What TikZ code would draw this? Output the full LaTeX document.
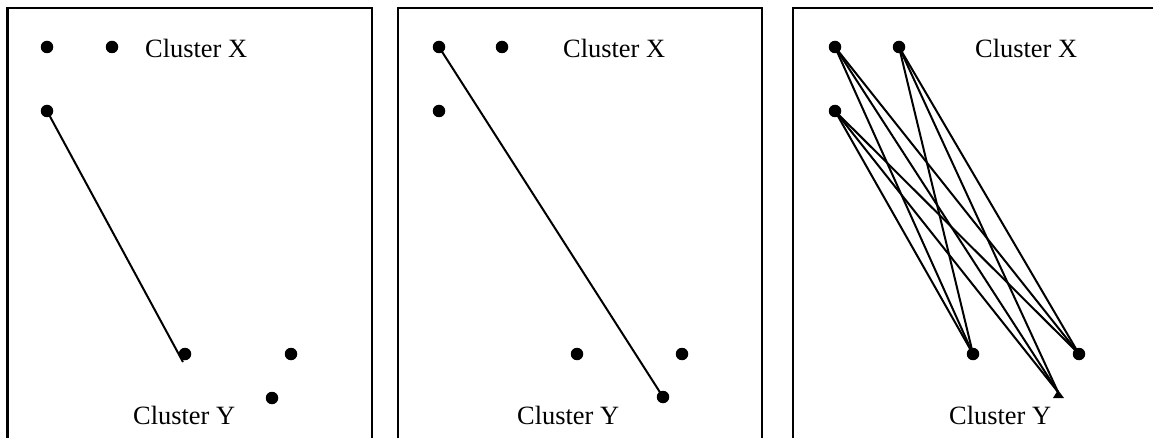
\documentclass[tikz,border=0pt]{standalone}
\usepackage{fontspec}
\setmainfont{Liberation Serif}
\begin{document}
\begin{tikzpicture}[x=1pt,y=-1pt,
  dot/.style={circle,fill=black,inner sep=0pt,minimum size=12.5pt},
  lbl/.style={anchor=base west,inner sep=0pt,font=\fontsize{26.4}{30}\selectfont},
  edge/.style={line width=2pt},
  frame/.style={line width=2.2pt}]
\useasboundingbox (0,0) rectangle (1153,438);
% frames (open at bottom)
\draw[frame] (7.5,440) -- (7.5,8) -- (372,8) -- (372,440);
\draw[frame] (398,440) -- (398,8) -- (762,8) -- (762,440);
\draw[frame] (793,440) -- (793,8) -- (1155,8);
% panel 1
\node[dot] (a1) at (47,47) {};
\node[dot] (a2) at (112,47) {};
\node[dot] (a3) at (47,111) {};
\node[dot] (b1) at (185,354) {};
\node[dot] (b2) at (291,354) {};
\node[dot] (b3) at (272,398) {};
\coordinate (b1e) at (183,362);
\node[lbl] (ax) at (145,58) {Cluster X};
\node[lbl] (ay) at (133,424) {Cluster Y};
\draw[edge] (a3.center) -- (b1e);
% panel 2
\node[dot] (c1) at (439,47) {};
\node[dot] (c2) at (502,47) {};
\node[dot] (c3) at (439,111) {};
\node[dot] (d1) at (577,354) {};
\node[dot] (d2) at (682,354) {};
\node[dot] (d3) at (663,397) {};
\node[lbl] (cx) at (563,58) {Cluster X};
\node[lbl] (cy) at (517,424) {Cluster Y};
\draw[edge] (c1.center) -- (d3.center);
% panel 3
\node[dot] (e1) at (835,47) {};
\node[dot] (e2) at (899,47) {};
\node[dot] (e3) at (835,111) {};
\node[dot] (f1) at (973,354) {};
\node[dot] (f2) at (1079,354) {};
\coordinate (f3) at (1058,392);
\fill (1053,398) -- (1058,390) -- (1064,398) -- cycle;
\node[lbl] (ex) at (975,58) {Cluster X};
\node[lbl] (ey) at (949,424) {Cluster Y};
\foreach \s in {e1,e2,e3}{
  \foreach \t in {f1,f2}{
    \draw[edge] (\s.center) -- (\t.center);
  }
  \draw[edge] (\s.center) -- (f3);
}
\end{tikzpicture}
\end{document}
